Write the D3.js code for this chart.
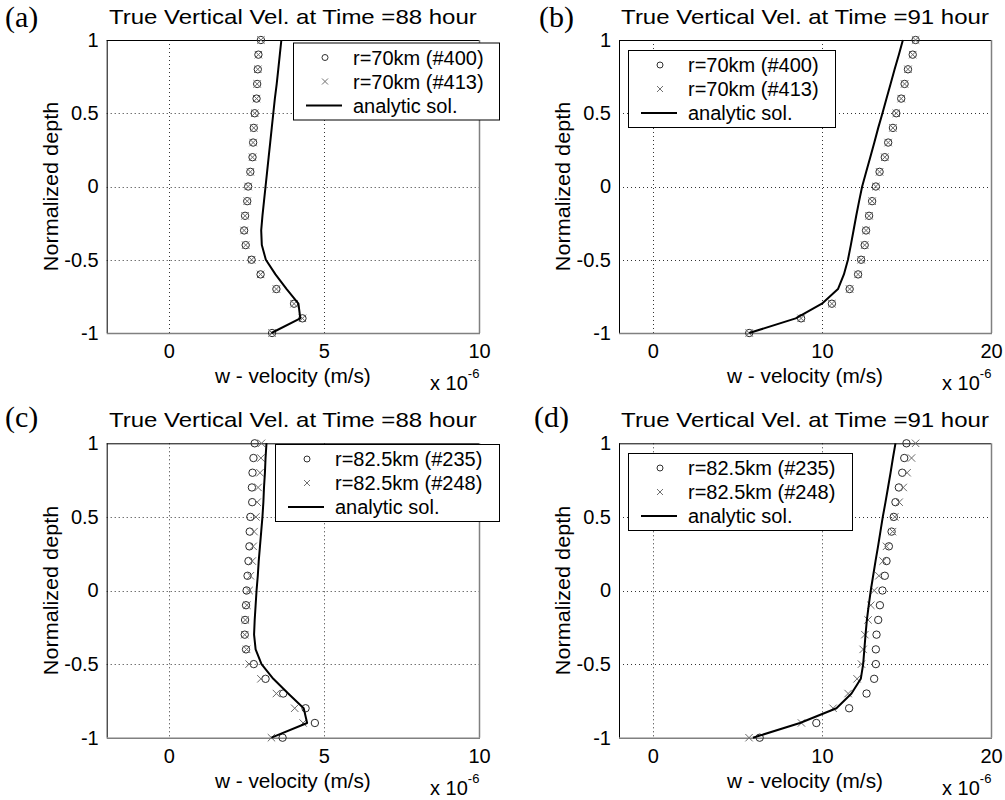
<!DOCTYPE html>
<html><head><meta charset="utf-8">
<script src="https://cdn.jsdelivr.net/npm/d3@7"></script>
<style>body{margin:0;background:#fff}</style>
</head><body>
<svg id="chart" width="1005" height="800"></svg>
<script>
// ---------------- data ----------------
const depth = [1, 0.9, 0.8, 0.7, 0.6, 0.5, 0.4, 0.3, 0.2, 0.1, 0, -0.1, -0.2, -0.3, -0.4, -0.5, -0.6, -0.7, -0.8, -0.9, -1];

// (a) 88 h, r = 70 km
const aNode400 = [2.97, 2.89, 2.87, 2.85, 2.83, 2.77, 2.74, 2.72, 2.70, 2.63, 2.56, 2.53, 2.46, 2.43, 2.48, 2.67, 2.96, 3.47, 4.04, 4.31, 3.33];
const aNode413 = [2.97, 2.89, 2.87, 2.85, 2.83, 2.77, 2.74, 2.72, 2.70, 2.63, 2.56, 2.53, 2.46, 2.43, 2.48, 2.67, 2.96, 3.47, 4.04, 4.31, 3.33];
const aAnalytic = [3.63, 3.58, 3.53, 3.48, 3.42, 3.37, 3.32, 3.27, 3.22, 3.17, 3.12, 3.07, 3.02, 2.98, 3.00, 3.13, 3.44, 3.80, 4.18, 4.24, 3.31];

// (b) 91 h, r = 70 km
const bNode400 = [15.54, 15.37, 15.09, 14.89, 14.69, 14.40, 14.20, 13.92, 13.72, 13.41, 13.19, 12.97, 12.79, 12.61, 12.53, 12.32, 12.14, 11.64, 10.59, 8.77, 5.70];
const bNode413 = [15.54, 15.37, 15.09, 14.89, 14.69, 14.40, 14.20, 13.92, 13.72, 13.41, 13.19, 12.97, 12.79, 12.61, 12.53, 12.32, 12.14, 11.64, 10.59, 8.77, 5.70];
const bAnalytic = [14.79, 14.55, 14.30, 14.06, 13.82, 13.58, 13.33, 13.10, 12.86, 12.62, 12.38, 12.20, 12.03, 11.87, 11.71, 11.54, 11.30, 10.95, 10.00, 8.45, 5.70];

// (c) 88 h, r = 82.5 km
const cNode235 = [2.77, 2.73, 2.70, 2.68, 2.69, 2.63, 2.61, 2.60, 2.57, 2.54, 2.51, 2.49, 2.46, 2.45, 2.49, 2.74, 3.12, 3.69, 4.41, 4.71, 3.67];
const cNode248 = [2.99, 2.97, 2.94, 2.88, 2.85, 2.81, 2.75, 2.72, 2.69, 2.63, 2.59, 2.52, 2.47, 2.45, 2.51, 2.59, 2.97, 3.47, 4.06, 4.33, 3.31];
const cAnalytic = [3.15, 3.12, 3.10, 3.07, 3.05, 3.02, 2.98, 2.94, 2.90, 2.87, 2.83, 2.80, 2.77, 2.75, 2.80, 2.99, 3.37, 3.85, 4.35, 4.46, 3.31];

// (d) 91 h, r = 82.5 km
const dNode235 = [15.00, 14.87, 14.75, 14.55, 14.35, 14.25, 14.12, 13.96, 13.82, 13.72, 13.58, 13.43, 13.33, 13.23, 13.19, 13.19, 13.09, 12.64, 11.61, 9.67, 6.32];
const dNode248 = [15.54, 15.30, 15.04, 14.81, 14.57, 14.31, 14.18, 13.82, 13.62, 13.37, 13.09, 12.89, 12.73, 12.54, 12.44, 12.34, 12.08, 11.55, 10.66, 8.79, 5.69];
const dAnalytic = [14.35, 14.20, 14.06, 13.91, 13.76, 13.60, 13.46, 13.32, 13.17, 13.03, 12.89, 12.77, 12.66, 12.58, 12.51, 12.44, 12.30, 11.75, 10.86, 8.70, 5.92];

const xTicks88 = [0, 5, 10];
const xTicks91 = [0, 10, 20];
const yTicks = [-1, -0.5, 0, 0.5, 1];
const yTickLabels = ["-1", "-0.5", "0", "0.5", "1"];

const legend70 = ["r=70km (#400)", "r=70km (#413)", "analytic sol."];
const legend825 = ["r=82.5km (#235)", "r=82.5km (#248)", "analytic sol."];

const title88 = "True Vertical Vel. at Time =88 hour";
const title91 = "True Vertical Vel. at Time =91 hour";
const xLabel = "w - velocity (m/s)";
const yLabel = "Normalized depth";

// ---------------- drawing ----------------
const svg = d3.select("#chart");
const FONT = "'Liberation Sans', Arial, Helvetica, sans-serif";
const FS = 20;

function txt(g, x, y, s, opt = {}) {
  const sx = opt.sx || 1;
  const rot = opt.rot ? ` rotate(${opt.rot})` : "";
  return g.append("text")
    .attr("transform", `translate(${x},${y})${rot} scale(${sx},1)`)
    .attr("font-family", opt.family || FONT)
    .attr("font-size", opt.size || FS)
    .attr("text-anchor", opt.anchor || "start")
    .attr("dominant-baseline", opt.baseline || "auto")
    .attr("fill", "#000")
    .text(s);
}

function panel(cfg) {
  const g = svg.append("g");
  const x = d3.scaleLinear().domain(cfg.xDomain).range([cfg.left, cfg.right]);
  const y = d3.scaleLinear().domain([-1, 1]).range([cfg.bottom, cfg.top]);

  // grid
  const grid = g.append("g").attr("stroke", "#333").attr("stroke-width", 1).attr("stroke-dasharray", "1,3");
  grid.selectAll(".gx").data(cfg.xTicks.filter(t => x(t) > cfg.left + 1 && x(t) < cfg.right - 1)).join("line")
    .attr("x1", d => Math.round(x(d)) + 0.5).attr("x2", d => Math.round(x(d)) + 0.5)
    .attr("y1", cfg.top).attr("y2", cfg.bottom);
  grid.selectAll(".gy").data(yTicks.filter(t => t > -1 && t < 1)).join("line")
    .attr("y1", d => Math.round(y(d)) + 0.5).attr("y2", d => Math.round(y(d)) + 0.5)
    .attr("x1", cfg.left).attr("x2", cfg.right);

  // axes (D3 axes, restyled MATLAB-like)
  const ax = d3.axisBottom(x).tickValues(cfg.xTicks).tickSize(0).tickPadding(11).tickFormat(d3.format("d"));
  const gxa = g.append("g").attr("transform", `translate(0,${cfg.bottom})`).call(ax);
  gxa.select(".domain").remove();
  gxa.selectAll("text").attr("font-family", FONT).attr("font-size", FS).attr("fill", "#000");
  const ay = d3.axisLeft(y).tickValues(yTicks).tickSize(0).tickPadding(8)
    .tickFormat(d => yTickLabels[yTicks.indexOf(d)]);
  const gya = g.append("g").attr("transform", `translate(${cfg.left},0)`).call(ay);
  gya.select(".domain").remove();
  gya.selectAll("text").attr("font-family", FONT).attr("font-size", FS).attr("fill", "#000");

  // box
  g.append("line").attr("x1", cfg.left).attr("x2", cfg.right).attr("y1", cfg.top + 0.5).attr("y2", cfg.top + 0.5).attr("stroke", "#000");
  g.append("line").attr("x1", cfg.left + 0.5).attr("x2", cfg.left + 0.5).attr("y1", cfg.top).attr("y2", cfg.bottom).attr("stroke", "#000");
  g.append("line").attr("x1", cfg.left).attr("x2", cfg.right + 1).attr("y1", cfg.bottom + 0.5).attr("y2", cfg.bottom + 0.5).attr("stroke", "#808080").attr("stroke-width", 1.5);
  g.append("line").attr("x1", cfg.right + 0.5).attr("x2", cfg.right + 0.5).attr("y1", cfg.top).attr("y2", cfg.bottom).attr("stroke", "#808080").attr("stroke-width", 1.5);

  // markers
  const circ = depth.map((d, i) => ({ v: cfg.circles[i], d }));
  const crs = depth.map((d, i) => ({ v: cfg.crosses[i], d }));
  g.append("g").selectAll("circle").data(circ).join("circle")
    .attr("cx", p => x(p.v)).attr("cy", p => y(p.d)).attr("r", 3.7)
    .attr("fill", "none").attr("stroke", "#2a2a2a").attr("stroke-width", 1);
  const k = 3.7;
  g.append("g").selectAll("path").data(crs).join("path")
    .attr("d", p => { const cx = x(p.v), cy = y(p.d); return `M${cx-k},${cy-k}L${cx+k},${cy+k}M${cx-k},${cy+k}L${cx+k},${cy-k}`; })
    .attr("stroke", "#6a6a6a").attr("stroke-width", 1).attr("fill", "none");

  // analytic line
  const line = d3.line().x(p => x(p.v)).y(p => y(p.d));
  g.append("path").datum(depth.map((d, i) => ({ v: cfg.analytic[i], d })))
    .attr("d", line).attr("fill", "none").attr("stroke", "#000").attr("stroke-width", 2)
    .attr("stroke-linejoin", "round");

  // legend
  const L = cfg.legend;
  const lg = g.append("g").attr("transform", `translate(${L.x},${L.y})`);
  lg.append("rect").attr("x", 0.5).attr("y", 0.5).attr("width", L.w).attr("height", 77)
    .attr("fill", "#fff").attr("stroke", "#000").attr("stroke-width", 1);
  const rows = [15, 39, 63];
  lg.append("circle").attr("cx", 32).attr("cy", rows[0]).attr("r", 3).attr("fill", "none").attr("stroke", "#303030");
  lg.append("path").attr("d", `M29,${rows[1]-3}L35,${rows[1]+3}M29,${rows[1]+3}L35,${rows[1]-3}`).attr("stroke", "#707070").attr("fill", "none");
  lg.append("line").attr("x1", 13).attr("x2", 49).attr("y1", rows[2]).attr("y2", rows[2]).attr("stroke", "#000").attr("stroke-width", 2);
  cfg.legendText.forEach((s, i) => txt(lg, 60, rows[i], s, { baseline: "central", sx: 1.0 }));

  // titles & labels
  txt(g, (cfg.left + cfg.right) / 2, cfg.top - 16, cfg.title, { anchor: "middle", sx: 1.2 });
  txt(g, (cfg.left + cfg.right) / 2, cfg.bottom + 50, xLabel, { anchor: "middle", sx: 1.04 });
  txt(g, cfg.left - 49, (cfg.top + cfg.bottom) / 2, yLabel, { anchor: "middle", rot: -90, sx: 1.03, size: 21 });
  const ex = g.append("text").attr("transform", `translate(${cfg.right - 49},${cfg.bottom + 57})`)
    .attr("font-family", FONT).attr("font-size", FS);
  ex.append("tspan").text("x 10");
  ex.append("tspan").attr("dy", -12).attr("font-size", 13).text("-6");
  // panel letter
  txt(g, cfg.letterX, cfg.letterY, cfg.letter, { family: "'Liberation Serif', 'Times New Roman', serif", size: 30 });
}

const L88 = 106.7, R88 = 479, L91 = 619, R91 = 991;
const T1 = 40, B1 = 333, T2 = 443.3, B2 = 737.7;

panel({ left: L88, right: R88, top: T1, bottom: B1, xDomain: [-2, 10], xTicks: xTicks88,
  circles: aNode400, crosses: aNode413, analytic: aAnalytic, legendText: legend70,
  legend: { x: 293, y: 42.5, w: 206 }, title: title88, letter: "(a)", letterX: 5, letterY: 27 });
panel({ left: L91, right: R91, top: T1, bottom: B1, xDomain: [-2, 20], xTicks: xTicks91,
  circles: bNode400, crosses: bNode413, analytic: bAnalytic, legendText: legend70,
  legend: { x: 628, y: 50, w: 207 }, title: title91, letter: "(b)", letterX: 539, letterY: 27 });
panel({ left: L88, right: R88, top: T2, bottom: B2, xDomain: [-2, 10], xTicks: xTicks88,
  circles: cNode235, crosses: cNode248, analytic: cAnalytic, legendText: legend825,
  legend: { x: 275, y: 444, w: 224 }, title: title88, letter: "(c)", letterX: 5, letterY: 427 });
panel({ left: L91, right: R91, top: T2, bottom: B2, xDomain: [-2, 20], xTicks: xTicks91,
  circles: dNode235, crosses: dNode248, analytic: dAnalytic, legendText: legend825,
  legend: { x: 628, y: 453, w: 224 }, title: title91, letter: "(d)", letterX: 534, letterY: 427 });
</script>
</body></html>
